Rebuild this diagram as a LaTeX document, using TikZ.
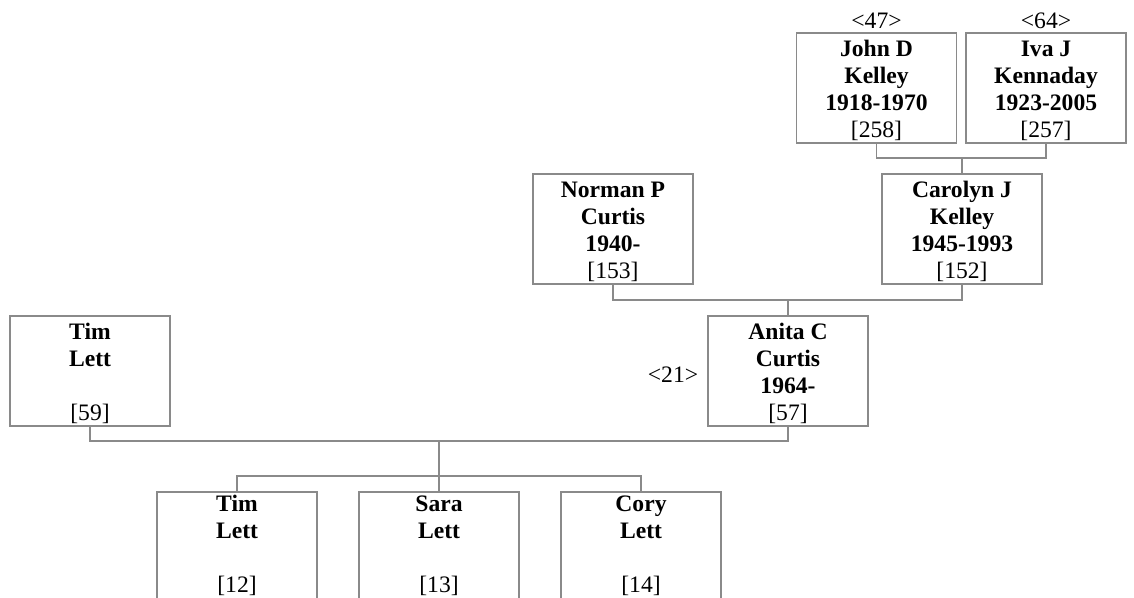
\documentclass[tikz,border=0pt]{standalone}
\usepackage{fontspec}
\setmainfont{Liberation Serif}
\definecolor{linegray}{HTML}{8A8A8A}
\newcommand{\tl}{\rule{0pt}{17.2pt}}
\newcommand{\bl}{\rule[-3pt]{0pt}{14pt}}
\begin{document}
\begin{tikzpicture}[x=0.75pt,y=-0.75pt,
  person/.style={draw=linegray,line width=0.9pt,fill=white,rectangle,
    minimum width=120pt,minimum height=82.5pt,inner sep=0pt,align=center,
    font=\fontsize{17.7}{20.25}\selectfont},
  conn/.style={draw=linegray,line width=0.8pt},
  tag/.style={inner sep=0pt,font=\fontsize{17.7}{20.25}\selectfont}]
\clip (0,0) rectangle (1134,598);
\fill[white] (0,0) rectangle (1134,598);
% generation 1
\node[person] (john) at (876.5,88) {\tl\textbf{John D}\\\strut\textbf{Kelley}\\\strut\textbf{1918-1970}\\\bl[258]};
\node[person] (iva) at (1046,88) {\tl\textbf{Iva J}\\\strut\textbf{Kennaday}\\\strut\textbf{1923-2005}\\\bl[257]};
\node[tag] (l47) at (876.5,21) {<47>};
\node[tag] (l64) at (1046,21) {<64>};
% generation 2
\node[person] (norman) at (613,229) {\tl\textbf{Norman P}\\\strut\textbf{Curtis}\\\strut\textbf{1940-}\\\bl[153]};
\node[person] (carolyn) at (962,229) {\tl\textbf{Carolyn J}\\\strut\textbf{Kelley}\\\strut\textbf{1945-1993}\\\bl[152]};
% generation 3
\node[person] (timp) at (90,371) {\tl\textbf{Tim}\\\strut\textbf{Lett}\\\strut~\\\bl[59]};
\node[person] (anita) at (788,371) {\tl\textbf{Anita C}\\\strut\textbf{Curtis}\\\strut\textbf{1964-}\hspace{5pt}\\\bl[57]};
\node[tag] (l21) at (673,375) {<21>};
% children
\node[person] (tim) at (237,547) {\strut\textbf{Tim}\\\strut\textbf{Lett}\\\strut~\\\strut[12]};
\node[person] (sara) at (439,547) {\strut\textbf{Sara}\\\strut\textbf{Lett}\\\strut~\\\strut[13]};
\node[person] (cory) at (641,547) {\strut\textbf{Cory}\\\strut\textbf{Lett}\\\strut~\\\strut[14]};
% junctions
\coordinate (m1) at (962,158);
\coordinate (m2) at (788,300);
\coordinate (m3) at (439,441);
\coordinate (m4) at (439,476);
% connectors
\draw[conn] (john.south) |- (m1) -| (iva.south);
\draw[conn] (m1) -- (carolyn.north);
\draw[conn] (norman.south) |- (m2) -| (carolyn.south);
\draw[conn] (m2) -- (anita.north);
\draw[conn] (timp.south) |- (m3) -| (anita.south);
\draw[conn] (m3) -- (m4);
\draw[conn] (tim.north) |- (m4) -| (cory.north);
\draw[conn] (m4) -- (sara.north);
\end{tikzpicture}
\end{document}
